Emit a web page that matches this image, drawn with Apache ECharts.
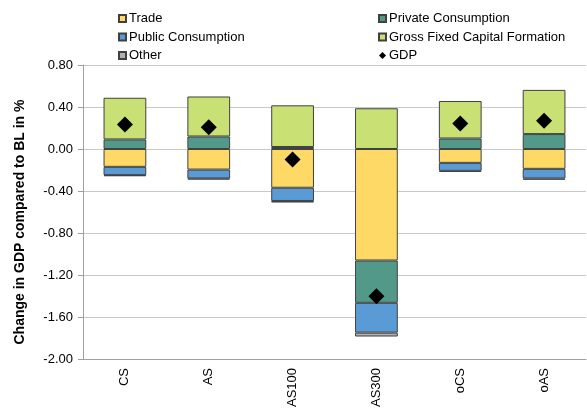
<!DOCTYPE html>
<html>
<head>
<meta charset="utf-8">
<script src="https://cdn.jsdelivr.net/npm/echarts@6/dist/echarts.min.js"></script>
<style>html,body{margin:0;padding:0;background:#fff;}#c{width:587px;height:410px;}</style>
</head>
<body>
<div id="c"></div>
<script>
var categories = ['CS', 'AS', 'AS100', 'AS300', 'oCS', 'oAS'];
var trade = [-0.170, -0.196, -0.369, -1.062, -0.132, -0.189];
var privateCons = [0.091, 0.119, 0.019, -0.403, 0.100, 0.142];
var publicCons = [-0.079, -0.085, -0.126, -0.284, -0.076, -0.092];
var gfcf = [0.397, 0.381, 0.397, 0.388, 0.357, 0.421];
var other = [-0.010, -0.010, -0.015, -0.037, -0.010, -0.012];
var gdp = [0.233, 0.208, -0.101, -1.403, 0.242, 0.270];
var yTicks = {min: -2.0, max: 0.8, interval: 0.4};

var FONT = 'Liberation Sans, Arial, sans-serif';
var chart = echarts.init(document.getElementById('c'));
function barSeries(name, data, color) {
  return {
    name: name, type: 'bar', stack: 'total', data: data, barWidth: '51%',
    itemStyle: {color: color, borderColor: '#404040', borderWidth: 1},
    emphasis: {disabled: true}
  };
}
var legendText = {fontSize: 13, color: '#000', fontFamily: FONT, padding: [0, 0, 0, -2]};
chart.setOption({
  animation: false,
  backgroundColor: '#ffffff',
  textStyle: {fontFamily: FONT},
  grid: {left: 83, right: 1, top: 65, bottom: 48, containLabel: false},
  legend: [{
    orient: 'vertical', left: 113, top: 7, itemWidth: 7, itemHeight: 7, itemGap: 5.5,
    textStyle: legendText,
    data: [{name: 'Trade', icon: 'rect'}, {name: 'Public Consumption', icon: 'rect'}, {name: 'Other', icon: 'rect'}]
  }, {
    orient: 'vertical', left: 373, top: 7, itemWidth: 7, itemHeight: 7, itemGap: 5.5,
    textStyle: legendText,
    data: [{name: 'Private Consumption', icon: 'rect'}, {name: 'Gross Fixed Capital Formation', icon: 'rect'}, {name: 'GDP', icon: 'diamond'}]
  }],
  graphic: [{
    type: 'text', x: 20, y: 222, rotation: Math.PI / 2,
    style: {text: 'Change in GDP compared to BL in %', font: 'bold 14px ' + FONT,
      fill: '#000', textAlign: 'center', textVerticalAlign: 'middle'}
  }],
  xAxis: {
    type: 'category', data: categories,
    axisLine: {onZero: false, lineStyle: {color: '#a0a0a0', width: 1}},
    axisTick: {show: false},
    axisLabel: {rotate: 90, fontSize: 13, color: '#000', margin: 9, fontFamily: FONT}
  },
  yAxis: {
    type: 'value', min: yTicks.min, max: yTicks.max, interval: yTicks.interval,
    axisLine: {show: true, lineStyle: {color: '#a0a0a0'}},
    axisTick: {show: true, length: 5, lineStyle: {color: '#a0a0a0'}},
    splitLine: {show: true, lineStyle: {color: '#c8c8c8', width: 1}},
    axisLabel: {fontSize: 13, color: '#000', margin: 10, fontFamily: FONT,
      formatter: function (v) { return v.toFixed(2); }}
  },
  series: [
    barSeries('Trade', trade, '#FFD966'),
    barSeries('Private Consumption', privateCons, '#52998A'),
    barSeries('Public Consumption', publicCons, '#5B9BD5'),
    barSeries('Gross Fixed Capital Formation', gfcf, '#C9E074'),
    barSeries('Other', other, '#B0B0B0'),
    {
      name: 'GDP', type: 'scatter', data: gdp, symbol: 'diamond', symbolSize: 16, z: 10,
      itemStyle: {color: '#000', opacity: 1}, emphasis: {disabled: true}
    }
  ]
});
</script>
</body>
</html>
